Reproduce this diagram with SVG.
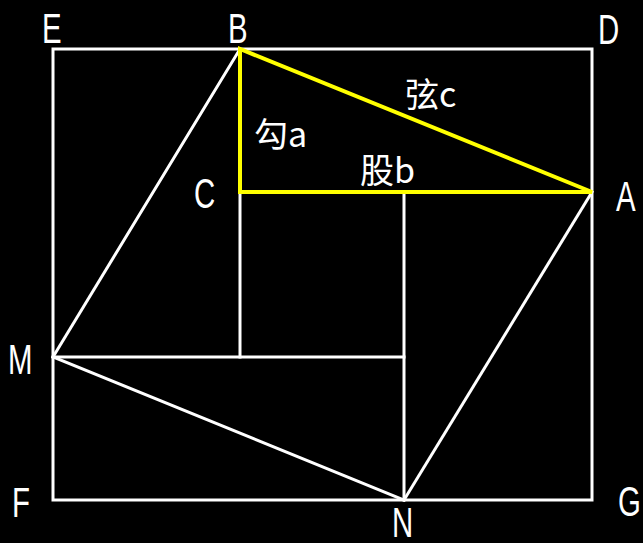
<svg xmlns="http://www.w3.org/2000/svg" width="643" height="543" viewBox="0 0 643 543">
<style>
.w{stroke:#fff;stroke-width:3;fill:none;stroke-linecap:square}
.y{stroke:#ff0;stroke-width:4;fill:none;stroke-linejoin:miter}
.lab{fill:#fff;font-family:"Liberation Sans",Arial,sans-serif;font-size:42px}
.cn{fill:#fff;font-family:"Noto Sans CJK SC","Noto Sans",sans-serif;font-size:34px}
</style>
<rect width="643" height="543" fill="#000"/>
<g id="connectors">
<rect class="w" x="53" y="49" width="539" height="451"/>
<line class="w" x1="240" y1="49" x2="53" y2="357"/>
<line class="w" x1="53" y1="357" x2="404" y2="500"/>
<line class="w" x1="404" y1="500" x2="592" y2="192"/>
<line class="w" x1="240" y1="192" x2="240" y2="357"/>
<line class="w" x1="404" y1="192" x2="404" y2="500"/>
<line class="w" x1="53" y1="357" x2="404" y2="357"/>
<polygon class="y" points="240,49 240,192 592,192"/>
</g>
<g id="E"><text class="lab" transform="translate(42,43) scale(0.7,1)">E</text></g>
<g id="B"><text class="lab" transform="translate(228,43) scale(0.7,1)">B</text></g>
<g id="D"><text class="lab" transform="translate(598,44) scale(0.7,1)">D</text></g>
<g id="C"><text class="lab" transform="translate(194,208) scale(0.7,1)">C</text></g>
<g id="A"><text class="lab" transform="translate(616,211) scale(0.7,1)">A</text></g>
<g id="M"><text class="lab" transform="translate(8,374) scale(0.7,1)">M</text></g>
<g id="F"><text class="lab" transform="translate(12,517) scale(0.7,1)">F</text></g>
<g id="G"><text class="lab" transform="translate(618,516) scale(0.7,1)">G</text></g>
<g id="N"><text class="lab" transform="translate(392,537) scale(0.7,1)">N</text></g>
<g id="label-a"><text class="cn" x="254" y="147">勾a</text></g>
<g id="label-c"><text class="cn" x="405" y="107">弦c</text></g>
<g id="label-b"><text class="cn" x="360" y="183">股b</text></g>
</svg>
